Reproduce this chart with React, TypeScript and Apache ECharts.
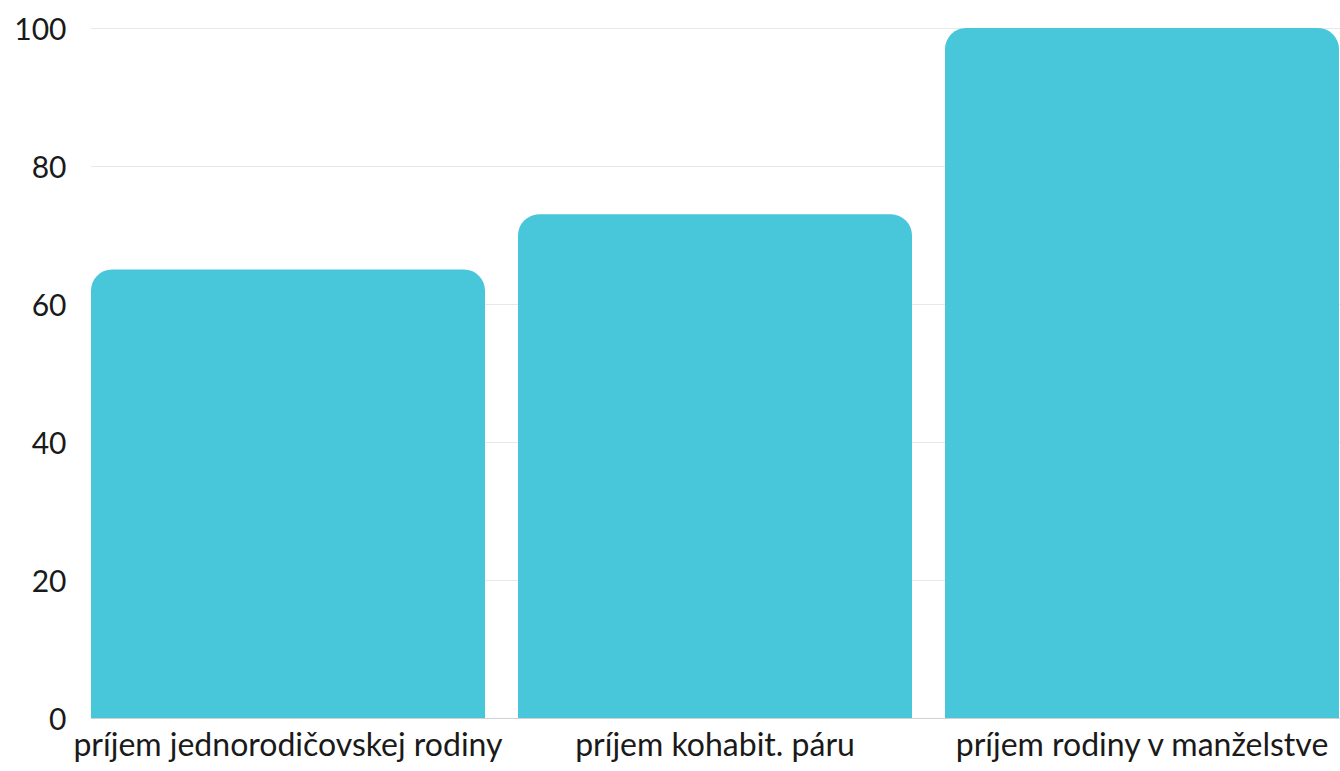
import React, { useEffect, useRef } from "react";
import * as echarts from "echarts";

const categories = ["príjem jednorodičovskej rodiny", "príjem kohabit. páru", "príjem rodiny v manželstve"];
const values = [65, 73, 100];
const yTicks = { min: 0, max: 100, interval: 20 };

export default function App() {
  const ref = useRef<HTMLDivElement>(null);
  useEffect(() => {
    if (!ref.current) return;
    const chart = echarts.init(ref.current, undefined, { renderer: "svg" });
    chart.setOption({
      animation: false,
      grid: { left: 74.5, right: 4.5, top: 28, bottom: 53, containLabel: false },
      xAxis: {
        type: "category",
        data: categories,
        axisLine: { show: true, lineStyle: { color: "#d0d0d0", width: 1 } },
        axisTick: { show: false },
        axisLabel: { color: "#1a1a1a", fontSize: 32, fontFamily: "Lato", margin: 9, interval: 0 },
      },
      yAxis: {
        type: "value",
        min: yTicks.min,
        max: yTicks.max,
        interval: yTicks.interval,
        axisLine: { show: false },
        axisTick: { show: false },
        splitLine: { lineStyle: { color: "#e8e8e8", width: 1 } },
        axisLabel: { color: "#1a1a1a", fontSize: 30, fontFamily: "Lato", margin: 8 },
      },
      graphic: [
        {
          type: "rect",
          left: 72,
          top: 15,
          shape: { width: 19, height: 710 },
          style: { fill: "#ffffff" },
          z: 1,
        },
      ],
      series: [
        {
          type: "bar",
          data: values,
          barCategoryGap: "7.73%",
          itemStyle: { color: "#48C6DA", borderRadius: [21, 21, 0, 0] },
        },
      ],
    });
    return () => chart.dispose();
  }, []);
  return (
    <div style={{ position: "fixed", left: 0, top: 0, width: 1340, height: 771, overflow: "hidden", background: "#fff" }}>
      <div ref={ref} style={{ width: 1360, height: 771 }} />
    </div>
  );
}
